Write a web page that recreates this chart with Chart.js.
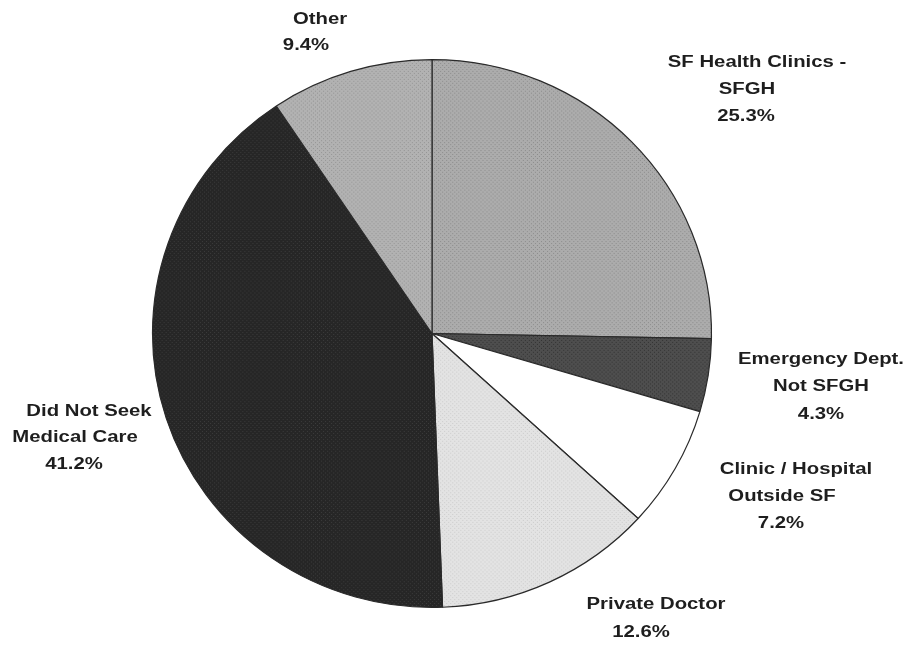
<!DOCTYPE html>
<html>
<head>
<meta charset="utf-8">
<script src="https://cdn.jsdelivr.net/npm/chart.js@4.4.1/dist/chart.umd.min.js"></script>
<style>
  html, body { margin: 0; padding: 0; background: #ffffff; }
  #wrap { width: 923px; height: 645px; position: relative; }
</style>
</head>
<body>
<div id="wrap"><canvas id="c" width="923" height="645"></canvas></div>
<script>
// ---- Data ----
const categories = [
  ["SF Health Clinics -", "SFGH"],
  ["Emergency Dept.", "Not SFGH"],
  ["Clinic / Hospital", "Outside SF"],
  ["Private Doctor"],
  ["Did Not Seek", "Medical Care"],
  ["Other"]
];
const values = [25.3, 4.3, 7.2, 12.6, 41.2, 9.4];

// ---- Styles (not data) ----
const baseColors = ["#acacac", "#4e4e4e", "#ffffff", "#e3e3e3", "#262626", "#b2b2b2"];
const dotColors  = ["#8c8c8c", "#333333", "#ffffff", "#cdcdcd", "#3c3c3c", "#959595"];
// per-line label centres [x, y]
const labelPos = [
  [[757, 63], [747, 90], [746, 117]],
  [[821, 360], [821, 387], [821, 415]],
  [[796, 470], [782, 497], [781, 524]],
  [[656, 605], [641, 633]],
  [[89, 412], [75, 438], [74, 465]],
  [[320, 20], [306, 46]]
];

function makePattern(base, dot) {
  const p = document.createElement('canvas');
  p.width = 4; p.height = 4;
  const g = p.getContext('2d');
  g.fillStyle = base; g.fillRect(0, 0, 4, 4);
  g.fillStyle = dot;
  g.fillRect(0, 0, 1, 1);
  g.fillRect(2, 2, 1, 1);
  return g.createPattern(p, 'repeat');
}
const fills = baseColors.map((b, i) => makePattern(b, dotColors[i]));

const CX = 432, CY = 333.5, R = 277, SX = 1.009, SY = 0.989;

const ellipsePlugin = {
  id: 'ellipse',
  beforeDatasetsDraw(chart) {
    const ctx = chart.ctx;
    ctx.save();
    ctx.translate(CX, CY);
    ctx.scale(SX, SY);
    ctx.translate(-CX, -CY);
  },
  afterDatasetsDraw(chart) {
    chart.ctx.restore();
  }
};

const labelPlugin = {
  id: 'sliceLabels',
  afterDraw(chart) {
    const ctx = chart.ctx;
    ctx.save();
    ctx.fillStyle = '#1e1e1e';
    ctx.font = 'bold 16px "Liberation Sans", Arial, sans-serif';
    ctx.textAlign = 'center';
    ctx.textBaseline = 'middle';
    categories.forEach((lines, i) => {
      const all = lines.concat([values[i].toFixed(1) + '%']);
      all.forEach((t, j) => {
        const [x, y] = labelPos[i][j];
        ctx.save();
        ctx.translate(x, y);
        ctx.scale(1.27, 1);
        ctx.fillText(t, 0, 0);
        ctx.restore();
      });
    });
    ctx.restore();
  }
};

new Chart(document.getElementById('c'), {
  type: 'pie',
  data: {
    labels: categories.map(l => l.join(' ')),
    datasets: [{
      data: values,
      backgroundColor: fills,
      borderColor: '#2a2a2a',
      borderWidth: 1.2,
      hoverOffset: 0
    }]
  },
  options: {
    responsive: false,
    animation: false,
    devicePixelRatio: 1,
    radius: R,
    layout: { padding: { left: CX - R, right: 923 - CX - R, top: CY - R, bottom: 645 - CY - R } },
    plugins: {
      legend: { display: false },
      tooltip: { enabled: false },
      title: { display: false }
    },
    events: []
  },
  plugins: [ellipsePlugin, labelPlugin]
});
</script>
</body>
</html>
